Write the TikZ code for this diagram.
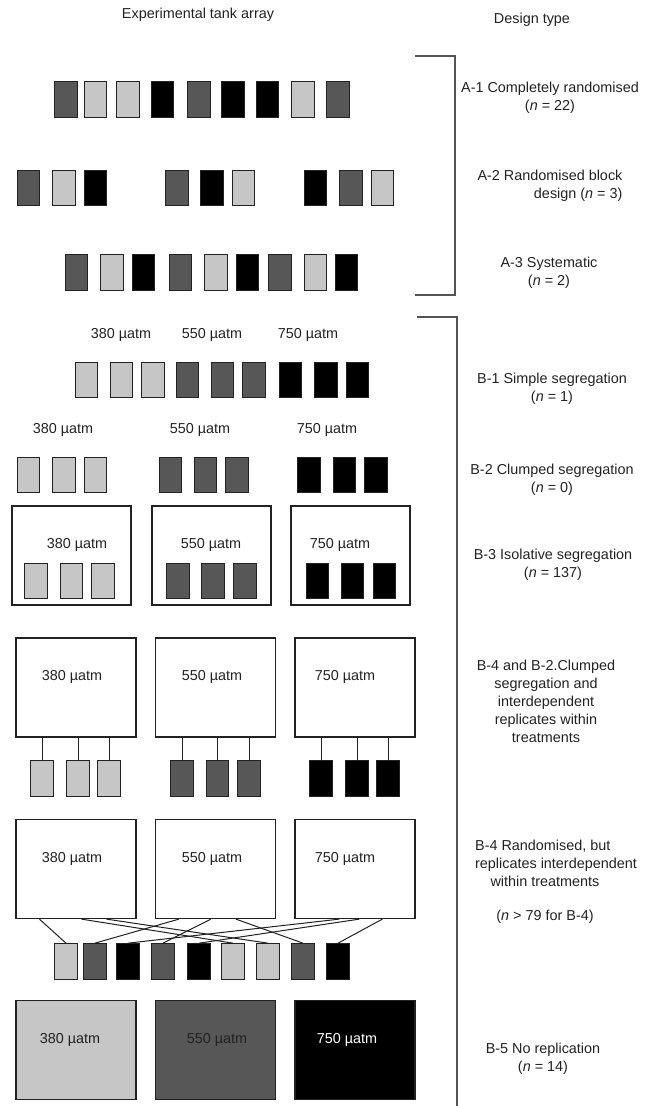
\documentclass[tikz,border=0pt]{standalone}
\usepackage{fontspec}
\setmainfont{Liberation Sans}
\definecolor{lowco}{HTML}{C6C6C6}
\definecolor{midco}{HTML}{575757}
\definecolor{highco}{HTML}{000000}
\definecolor{ink}{HTML}{222222}
\definecolor{rule}{HTML}{555555}

\begin{document}
\begin{tikzpicture}[x=1pt, y=-1pt, font=\fontsize{14.4}{18}\selectfont, text=ink,
  tank/.style={rectangle, draw=ink, line width=1.2pt, inner sep=0pt, minimum width=22.5pt, minimum height=35.5pt},
  room/.style={rectangle, draw=ink, line width=1.2pt, inner sep=0pt, minimum width=120pt, minimum height=99pt},
  pipe/.style={draw=ink, line width=1pt},
  design/.style={align=center, inner sep=0pt},
  bracket/.style={draw=rule, line width=1.4pt}]
\useasboundingbox (0,0) rectangle (651,1106);

\node (head1) at (198,15) {Experimental tank array};
\node (head2) at (532,20) {Design type};

\draw[bracket] (415,56) -- (455,56) -- (455,295) -- (415,295);
\draw[bracket] (417,317) -- (457,317) -- (457,1106);

\foreach \x/\c [count=\i] in {66/midco,95.5/lowco,128/lowco,162.5/highco,199/midco,233/highco,267.5/highco,303/lowco,338/midco}
   \node[tank, fill=\c] (a1\i) at (\x,99.5) {};
\foreach \x/\c [count=\i] in {28.5/midco,64/lowco,95.5/highco,177/midco,212/highco,243.5/lowco,315.5/highco,351/midco,382.5/lowco}
   \node[tank, fill=\c] (a2\i) at (\x,188) {};
\foreach \x/\c [count=\i] in {76.5/midco,112/lowco,143.5/highco,180.5/midco,216/lowco,247.5/highco,280/midco,315.5/lowco,346.5/highco}
   \node[tank, fill=\c] (a3\i) at (\x,272.5) {};

\foreach \x/\c [count=\i] in {86.5/lowco,121.5/lowco,153/lowco,187.5/midco,222.5/midco,254/midco,290.5/highco,326/highco,357.5/highco}
   \node[tank, fill=\c] (b1\i) at (\x,380) {};
\foreach \x/\c [count=\i] in {28.5/lowco,64/lowco,95.5/lowco,170.5/midco,205.5/midco,237/midco,309/highco,344.5/highco,376/highco}
   \node[tank, fill=\c] (b2\i) at (\x,475) {};
\foreach \x/\c [count=\i] in {36/lowco,71.5/lowco,103/lowco,178/midco,213/midco,245/midco,317.5/highco,352.5/highco,384.5/highco}
   \node[tank, fill=\c] (b3\i) at (\x,581) {};
\foreach \x/\c [count=\i] in {42/lowco,78/lowco,109/lowco,182/midco,217.5/midco,249/midco,321/highco,357/highco,388/highco}
   \node[tank, fill=\c] (b4\i) at (\x,778.5) {};
\foreach \x/\c [count=\i] in {66/lowco,95/midco,128/highco,163/midco,199/highco,233/lowco,268/lowco,303/midco,338/highco}
   \node[tank, fill=\c] (b5\i) at (\x,961.5) {};

\foreach \x/\t [count=\i] in {121/380,212/550,308/750}
   \node (t1\i) at (\x,335) {\t\ µatm};
\foreach \x/\t [count=\i] in {63/380,200/550,327/750}
   \node (t2\i) at (\x,430) {\t\ µatm};

\foreach \x/\t [count=\i] in {71.5/380,211.5/550,350.5/750}
   \node[room, minimum width=119pt] (r3\i) at (\x,555.5) {};
\foreach \x/\t [count=\i] in {77/380,211/550,340/750}
   \node (t3\i) at (\x,545) {\t\ µatm};

\foreach \x/\t [count=\i] in {76/380,215.5/550,355/750}
   \node[room] (r4\i) at (\x,687.5) {};
\foreach \x/\t [count=\i] in {72/380,212/550,345/750}
   \node (t4\i) at (\x,677) {\t\ µatm};

\foreach \x/\t [count=\i] in {76/380,215.5/550,355/750}
   \node[room] (r5\i) at (\x,869) {};
\foreach \x/\t [count=\i] in {72/380,212/550,345/750}
   \node (t5\i) at (\x,859) {\t\ µatm};

\node[room, fill=lowco] (r61) at (76,1050) {};
\node[room, fill=midco] (r62) at (215.5,1050) {};
\node[room, fill=highco] (r63) at (355,1050) {};
\node (t61) at (70,1040) {380 µatm};
\node (t62) at (217,1040) {550 µatm};
\node[text=white] (t63) at (347,1040) {750 µatm};

\foreach \r/\t in {1/1,1/2,1/3,2/4,2/5,2/6,3/7,3/8,3/9}
   \draw[pipe] (b4\t.north) -- (b4\t.north |- r4\r.south);

\coordinate (p11) at ([xshift=24pt]r51.south west);
\coordinate (p12) at ([xshift=66pt]r51.south west);
\coordinate (p13) at ([xshift=91pt]r51.south west);
\coordinate (p21) at ([xshift=24pt]r52.south west);
\coordinate (p22) at ([xshift=56pt]r52.south west);
\coordinate (p23) at ([xshift=81pt]r52.south west);
\coordinate (p31) at ([xshift=45pt]r53.south west);
\coordinate (p32) at ([xshift=65pt]r53.south west);
\coordinate (p33) at ([xshift=88pt]r53.south west);
\foreach \p/\t in {11/1,12/6,13/7,21/2,22/4,23/8,31/3,32/5,33/9}
   \draw[pipe] (p\p) -- (b5\t.north);

\node[design] (da1) at (550,98) {A-1 Completely randomised\\(\textit{n} = 22)};
\node[design, align=right] (da2) at (550,185.5) {A-2 Randomised block\\design (\textit{n} = 3)};
\node[design] (da3) at (549,272.5) {A-3 Systematic\\(\textit{n} = 2)};
\node[design] (db1) at (552,389) {B-1 Simple segregation\\(\textit{n} = 1)};
\node[design] (db2) at (552,479.5) {B-2 Clumped segregation\\(\textit{n} = 0)};
\node[design] (db3) at (553,565) {B-3 Isolative segregation\\(\textit{n} = 137)};
\node[design] (db4) at (546,701) {B-4 and B-2.Clumped\\segregation and\\interdependent\\replicates within\\treatments};
\node[design, align=left] (db5) at (556,856) {B-4 Randomised, but\\replicates interdependent};
\node[design] (db6) at (545,900) {within treatments\\[16pt](\textit{n} > 79 for B-4)};
\node[design] (db7) at (543,1059) {B-5 No replication\\(\textit{n} = 14)};
\end{tikzpicture}
\end{document}
